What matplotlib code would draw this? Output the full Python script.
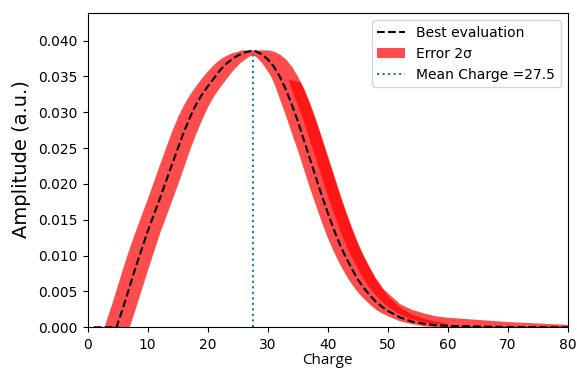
import matplotlib
matplotlib.use("Agg")
import matplotlib.pyplot as plt

# ---- data ----
charge = [1, 4.8, 6, 7, 8, 10, 12, 14, 16, 17, 18, 19, 20, 21, 22, 23, 24, 25, 26, 27,
          27.5, 28, 29, 30, 31, 32, 33, 34, 35, 36, 37, 38, 39, 40, 41, 42, 43, 44, 45,
          46, 47, 48, 49, 50, 52, 54, 56, 58, 60, 65, 70, 80]
best = [0, 0, 0.0030, 0.0057, 0.0084, 0.0134, 0.0179, 0.0226, 0.0272, 0.0292, 0.0310,
        0.0324, 0.0336, 0.0347, 0.0358, 0.0367, 0.0374, 0.0379, 0.0383, 0.0385,
        0.0386, 0.0385, 0.0381, 0.0374, 0.0364, 0.0350, 0.0332, 0.0311, 0.0288, 0.0262,
        0.0236, 0.0210, 0.0184, 0.0160, 0.0137, 0.0116, 0.0098, 0.0082, 0.0067,
        0.0055, 0.0045, 0.0036, 0.0029, 0.0023, 0.0014, 0.0008, 0.0005, 0.0003,
        0.0002, 0.0001, 0.00004, 0.0]

band_x = [1, 2.7, 3, 4, 5, 6, 6.9, 8, 10, 12, 14, 15, 16, 17, 18, 19, 20, 21, 22, 23,
          24, 25, 25.5, 26, 27, 27.5, 28, 29, 30, 30.5, 31, 32, 33, 34, 35, 36, 37, 38,
          39, 40, 41, 42, 43, 44, 45, 46, 47, 48, 49, 50, 52, 54, 56, 58, 60, 65, 70,
          75, 80]
band_upper = [0, 0, 0.0008, 0.0033, 0.0060, 0.0087, 0.0110, 0.0136, 0.0181, 0.0228,
              0.0274, 0.0294, 0.0311, 0.0325, 0.0337, 0.0348, 0.0358, 0.0367, 0.0374,
              0.0379, 0.0383, 0.0385, 0.0387, 0.0387, 0.0387, 0.0387, 0.0387, 0.0387,
              0.0387, 0.0386, 0.0385, 0.0381, 0.0374, 0.0364, 0.0350, 0.0332, 0.0311,
              0.0288, 0.0262, 0.0236, 0.0210, 0.0184, 0.0160, 0.0137, 0.0116, 0.0098,
              0.0082, 0.0067, 0.0055, 0.0048, 0.0033, 0.0025, 0.0020, 0.0016, 0.0014,
              0.0011, 0.0008, 0.0006, 0.0004]
band_lower = [0, 0, 0, 0, 0, 0, 0, 0.0028, 0.0081, 0.0132, 0.0177, 0.0200, 0.0224,
              0.0248, 0.0270, 0.0290, 0.0308, 0.0323, 0.0335, 0.0346, 0.0357, 0.0366,
              0.0370, 0.0373, 0.0379, 0.0380, 0.0378, 0.0369, 0.0357, 0.0350, 0.0341,
              0.0318, 0.0295, 0.0270, 0.0246, 0.0220, 0.0194, 0.0170, 0.0146, 0.0124,
              0.0105, 0.0088, 0.0073, 0.0060, 0.0049, 0.0040, 0.0032, 0.0025, 0.0020,
              0.0016, 0.0009, 0.0005, 0.0002, 0.0001, 0, 0, 0, 0, 0]

# darker overlapping part of the error band (right-hand side of the fall)
dark_right_x = [33.5, 35.5, 36, 37, 38, 39, 40, 41, 42, 43, 44, 45, 46, 47, 48, 49, 50,
                52, 54, 56, 58, 60]
dark_right_y = [0.0345, 0.0342, 0.0334, 0.0314, 0.0291, 0.0266, 0.0240, 0.0214, 0.0188,
                0.0163, 0.0140, 0.0119, 0.0100, 0.0084, 0.0069, 0.0057, 0.0044, 0.0028,
                0.0018, 0.0012, 0.0008, 0.0005]
dark_left_x = [33.5, 34, 35, 36, 37, 38, 39, 40, 41, 42, 43, 44, 45, 46, 47, 48, 49, 50,
               52, 54, 56, 58, 60]
dark_left_y = [0.0345, 0.0332, 0.0311, 0.0288, 0.0262, 0.0236, 0.0210, 0.0184, 0.0160,
               0.0137, 0.0116, 0.0098, 0.0082, 0.0067, 0.0055, 0.0045, 0.0036, 0.0029,
               0.0018, 0.0011, 0.0007, 0.0004, 0.0003]

mean_charge = 27.5
x_ticks = [0, 10, 20, 30, 40, 50, 60, 70, 80]
y_ticks = [0.000, 0.005, 0.010, 0.015, 0.020, 0.025, 0.030, 0.035, 0.040]

# ---- figure ----
fig = plt.figure(figsize=(5.77, 3.70), dpi=100)
ax = fig.add_axes([0.152, 0.1154, 0.8319, 0.8486])

ax.fill_between(band_x, band_lower, band_upper, color="red", alpha=0.7,
                linewidth=0, label="Error 2σ")
poly_x = dark_right_x + dark_left_x[::-1]
poly_y = dark_right_y + dark_left_y[::-1]
ax.fill(poly_x, poly_y, color="red", alpha=0.7, linewidth=0)

ax.plot(charge, best, "k--", linewidth=1.5, label="Best evaluation")
ax.vlines(mean_charge, 0, max(best), colors="C0", linestyles=":", linewidth=1.5,
          label=f"Mean Charge ={mean_charge}")

ax.set_xlim(0, 80)
ax.set_ylim(0, 0.0438)
ax.set_xticks(x_ticks)
ax.set_yticks(y_ticks)
ax.set_yticklabels([f"{v:.3f}" for v in y_ticks])
ax.tick_params(axis="x", pad=4.5)

h, l = ax.get_legend_handles_labels()
order = [l.index("Best evaluation"), l.index("Error 2σ"), l.index(f"Mean Charge ={mean_charge}")]
ax.legend([h[i] for i in order], [l[i] for i in order], loc="upper right", fontsize=10)

fig.text(21.7 / 577, 1 - 159 / 370, "Amplitude (a.u.)", rotation=90, ha="center",
         va="center", fontsize=14)
fig.text(327 / 577, 1 - 353 / 370, "Charge", ha="center", va="top", fontsize=11,
         family="Open Sans")

fig.savefig("out.png", dpi=100)
